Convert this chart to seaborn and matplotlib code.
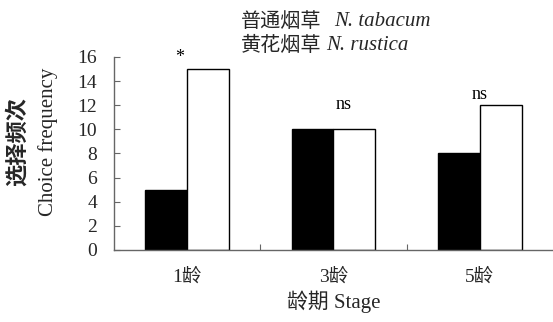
import matplotlib
matplotlib.use("Agg")
import matplotlib.pyplot as plt
import seaborn as sns
import pandas as pd

# Choice frequency by larval stage for the two tobacco hosts
stages = ["1龄", "3龄", "5龄"]
hosts_cn = ["普通烟草", "黄花烟草"]
hosts_latin = ["N. tabacum", "N. rustica"]
tabacum = [5, 10, 8]
rustica = [15, 10, 12]
signif = ["*", "ns", "ns"]

sns.set_theme(style="white")
plt.rcParams["font.family"] = ["Liberation Serif", "Noto Sans CJK SC"]

df = pd.DataFrame({
    "stage": stages * 2,
    "host": [hosts_cn[0]] * 3 + [hosts_cn[1]] * 3,
    "freq": tabacum + rustica,
})

fig = plt.figure(figsize=(5.53, 3.22), dpi=100)
ax = fig.add_axes([0.206, 0.224, 0.794, 0.599])

sns.barplot(data=df, x="stage", y="freq", hue="host", order=stages,
            hue_order=hosts_cn, palette=["black", "white"], width=0.57,
            edgecolor="black", linewidth=1.0, errorbar=None, ax=ax,
            saturation=1, legend=False)

ax.set_xlim(-0.5, 2.5)
ax.set_ylim(0, 16)
ax.set_yticks(range(0, 17, 2))
ax.set_xticks([0.5, 1.5], minor=True)
ax.tick_params(axis="x", which="major", length=0, pad=13, labelsize=14)
ax.tick_params(axis="x", which="minor", direction="in", length=4,
               width=0.8, color="#666666", bottom=True)
ax.tick_params(axis="y", direction="in", length=4, width=0.8,
               color="#666666", left=True, labelsize=14, pad=12)
for lab in ax.get_xticklabels():
    lab.set_fontfamily(["Liberation Serif", "Noto Sans CJK SC"])

for side in ["top", "right"]:
    ax.spines[side].set_visible(False)
for side in ["left", "bottom"]:
    ax.spines[side].set_color("#666666")
    ax.spines[side].set_linewidth(1.0)

# significance marks above each pair
pair_top = [max(a, b) for a, b in zip(tabacum, rustica)]
x_shift = [-0.05, 0.07, 0.0]
y_gap = [0.25, 1.35, 0.15]
for i, s in enumerate(signif):
    ax.text(i + x_shift[i], pair_top[i] + y_gap[i], s, ha="center",
            va="bottom", fontsize=13, color="black")

ax.set_xlabel("龄期 Stage", fontsize=15, labelpad=4)
ax.xaxis.label.set_fontfamily(["Liberation Serif", "Noto Sans CJK SC"])
ax.set_ylabel("Choice frequency", fontsize=15)
ax.yaxis.set_label_coords(-0.128, 0.56)
ax.text(-0.221, 0.56, "选择频次", transform=ax.transAxes, rotation=90,
        ha="center", va="center", fontsize=16, fontweight="bold",
        fontfamily="Noto Sans CJK SC")

# host key: Chinese name followed by italic Latin name
gaps_pt = [9, 3]
for row, (cn, latin) in enumerate(zip(hosts_cn, hosts_latin)):
    y = 1 - (21 + 24 * row) / 322
    t = fig.text(241 / 553, y, cn, ha="left", va="center",
                 fontsize=14.5, fontfamily="Noto Sans CJK SC")
    ax.annotate(latin, xy=(1, 0.5), xycoords=t, xytext=(gaps_pt[row], 0),
                textcoords="offset points", ha="left", va="center",
                fontsize=15, fontstyle="italic",
                fontfamily="Liberation Serif", annotation_clip=False)

fig.savefig("out.png", dpi=100)
